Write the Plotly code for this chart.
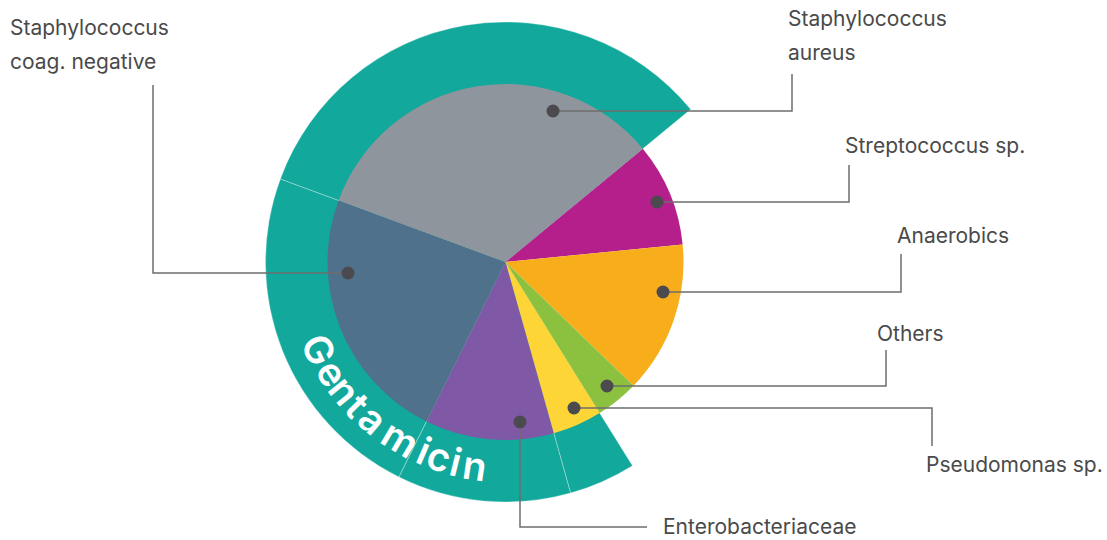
import plotly.graph_objects as go
import numpy as np

W, H = 1107, 540

# ---------------- data (clockwise, starting at the Staph. aureus / Streptococcus boundary)
categories = ["Streptococcus sp.", "Anaerobics", "Others", "Pseudomonas sp.",
              "Enterobacteriaceae", "Staphylococcus coag. negative", "Staphylococcus aureus"]
shares = [9.4, 13.8, 3.9, 4.5, 11.7, 23.3, 33.4]
gentamicin_covered = [0, 0, 0, 1, 1, 1, 1]
ring_label = "Gentamicin"

# label text lines per category
label_lines = [["Streptococcus sp."], ["Anaerobics"], ["Others"], ["Pseudomonas sp."],
               ["Enterobacteriaceae"], ["Staphylococcus", "coag. negative"],
               ["Staphylococcus", "aureus"]]

# ---------------- layout / styling (pixel canvas units)
slice_colors = ["#B41F8C", "#F8AE1B", "#8CC03F", "#FDD536", "#7F59A5", "#4F718B", "#8E959D"]
ring_color = "#12A89C"
cx, cy = 505.5, 262.0
r_pie, r_ring = 178.0, 240.0
start_clock_angle = 50.5

# dot positions, leader path and label anchor per category
dots = [(657, 202), (663, 292), (607, 386), (574, 408), (520, 422), (348, 273), (553, 111)]
leader_paths = [
    [(657, 202), (849, 202), (849, 165)],
    [(663, 292), (901, 292), (901, 254)],
    [(607, 386), (886, 386), (886, 350)],
    [(574, 408), (932, 408), (932, 446)],
    [(520, 422), (520, 527), (647, 527)],
    [(348, 273), (153, 273), (153, 85)],
    [(553, 111), (792, 111), (792, 74)],
]
label_pos = [(843, 145), (895, 235), (875, 333), (924, 464.5), (661, 526),
             (8, 27.5), (786, 18.5)]
line_gap = 34

# curved ring-label letter angles (screen degrees, clockwise from +x)
letter_angles = [154.9, 147.4, 141.3, 135.8, 130.3, 120.6, 113.3, 108.6, 104.0, 98.6]
r_text = 205.5


def domain_for(r):
    return dict(x=[(cx - r) / W, (cx + r) / W],
                y=[(H - cy - r) / H, (H - cy + r) / H])


fig = go.Figure()

# outer ring (full wedges, inner part covered by the pie drawn on top)
ring_colors = [ring_color if c else "rgba(0,0,0,0)" for c in gentamicin_covered]
ring_line_w = [1 if c else 0 for c in gentamicin_covered]
fig.add_trace(go.Pie(
    labels=categories, values=shares, sort=False, direction="clockwise",
    rotation=start_clock_angle, domain=domain_for(r_ring),
    marker=dict(colors=ring_colors,
                line=dict(color="rgba(255,255,255,0.3)", width=ring_line_w)),
    textinfo="none", hoverinfo="skip", showlegend=False))

# inner pie
fig.add_trace(go.Pie(
    labels=categories, values=shares, sort=False, direction="clockwise",
    rotation=start_clock_angle, domain=domain_for(r_pie),
    marker=dict(colors=slice_colors, line=dict(width=0)),
    textinfo="none", hoverinfo="skip", showlegend=False))

# invisible cartesian canvas (1 unit = 1 px) for leaders and labels
fig.add_trace(go.Scatter(x=[0, W], y=[0, H], mode="markers",
                         marker=dict(opacity=0), hoverinfo="skip", showlegend=False))

shapes = []
for path in leader_paths:
    d = "M " + " L ".join(f"{x},{y}" for x, y in path)
    shapes.append(dict(type="path", path=d, xref="x", yref="y", layer="above",
                       line=dict(color="#6e6e6e", width=1.5)))
for x, y in dots:
    shapes.append(dict(type="circle", xref="x", yref="y", layer="above",
                       xsizemode="pixel", ysizemode="pixel", xanchor=x, yanchor=y,
                       x0=-6.5, x1=6.5, y0=-6.5, y1=6.5,
                       fillcolor="#4a4a4f", line=dict(width=0)))

annotations = []
for lines, (lx, ly) in zip(label_lines, label_pos):
    for k, t in enumerate(lines):
        annotations.append(dict(text=t, x=lx, y=ly + k * line_gap, xref="x", yref="y",
                                xanchor="left", yanchor="middle", showarrow=False,
                                font=dict(family="Inter", size=21, color="#4a4a4a")))

for ch, ang in zip(ring_label, letter_angles):
    a = np.deg2rad(ang)
    annotations.append(dict(text=ch, x=cx + r_text * np.cos(a), y=cy + r_text * np.sin(a),
                            xref="x", yref="y", xanchor="center", yanchor="middle",
                            showarrow=False, textangle=ang - 90,
                            font=dict(family="Inter", size=39, color="white", weight=600)))

fig.update_layout(
    width=W, height=H, margin=dict(l=0, r=0, t=0, b=0),
    paper_bgcolor="white", plot_bgcolor="white",
    xaxis=dict(range=[0, W], visible=False, fixedrange=True, domain=[0, 1]),
    yaxis=dict(range=[H, 0], visible=False, fixedrange=True, domain=[0, 1]),
    shapes=shapes, annotations=annotations, showlegend=False,
)

fig.write_html("out.html", config={"displayModeBar": False},
               post_script="document.body.style.margin='0';document.body.style.padding='0';")
